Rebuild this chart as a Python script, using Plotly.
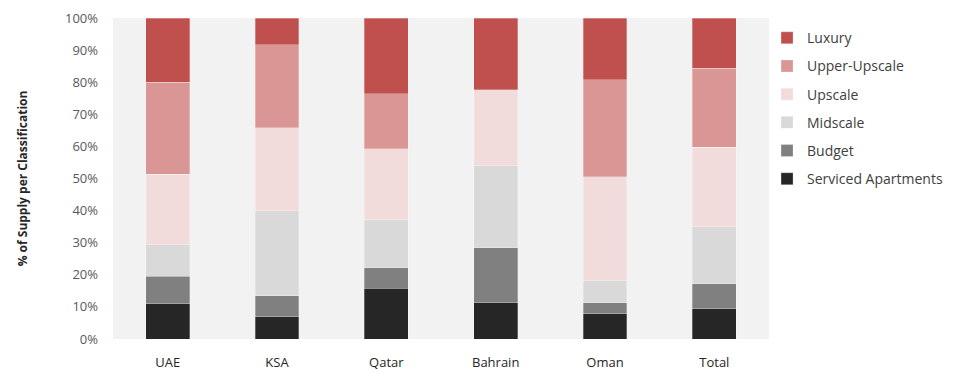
import plotly.graph_objects as go

# Share of hotel supply by classification (% of total rooms)
markets = ["UAE", "KSA", "Qatar", "Bahrain", "Oman", "Total"]

serviced_apartments = [11.0, 7.0, 15.8, 11.3, 7.8, 9.5]
budget = [8.6, 6.5, 6.4, 17.1, 3.5, 7.7]
midscale = [9.7, 26.4, 15.0, 25.6, 6.9, 17.8]
upscale = [22.1, 25.9, 22.0, 23.7, 32.4, 24.7]
upper_upscale = [28.6, 25.8, 17.2, 0.0, 30.2, 24.6]
luxury = [20.0, 8.4, 23.6, 22.3, 19.2, 15.7]

series = [
    ("Serviced Apartments", serviced_apartments, "#262626"),
    ("Budget", budget, "#808080"),
    ("Midscale", midscale, "#D9D9D9"),
    ("Upscale", upscale, "#F2DCDB"),
    ("Upper-Upscale", upper_upscale, "#D99694"),
    ("Luxury", luxury, "#C0504D"),
]

fig = go.Figure()
for rank, (name, values, color) in enumerate(series):
    fig.add_trace(go.Bar(
        x=markets,
        y=values,
        name=name,
        legendgroup=name,
        legendrank=len(series) - rank,
        marker=dict(color=color, line=dict(color="rgba(255,255,255,0.35)", width=0.8)),
        hovertemplate="%{x}: %{y:.1f}%<extra>" + name + "</extra>",
    ))

fig.update_layout(
    barmode="stack",
    bargap=0.6,
    width=964,
    height=373,
    margin=dict(l=113, r=195, t=18, b=34, autoexpand=False),
    paper_bgcolor="white",
    plot_bgcolor="#F2F2F2",
    font=dict(family="Open Sans, sans-serif", size=13, color="#404040"),
    legend=dict(
        traceorder="grouped",
        tracegroupgap=7,
        x=0.997,
        xanchor="left",
        y=0.987,
        yanchor="top",
        font=dict(size=14, color="#404040"),
        bgcolor="rgba(0,0,0,0)",
    ),
    xaxis=dict(
        showgrid=False,
        showline=False,
        ticks="",
        automargin=False,
        ticklabelstandoff=14,
        tickfont=dict(size=13, color="#262626"),
    ),
    yaxis=dict(
        range=[0, 100],
        dtick=10,
        ticksuffix="%",
        showgrid=False,
        zeroline=False,
        showline=False,
        ticks="",
        automargin=False,
        ticklabelstandoff=14,
        tickfont=dict(size=13, color="#595959"),
        title=dict(
            text="<b>% of Supply per Classification</b>",
            font=dict(size=12, color="#262626"),
            standoff=34,
        ),
    ),
)

fig.write_html("out.html")
